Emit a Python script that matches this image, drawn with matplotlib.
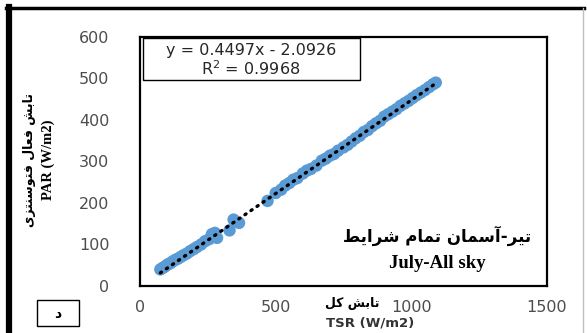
import numpy as np
import matplotlib
matplotlib.use('Agg')
import matplotlib.pyplot as plt
from matplotlib.lines import Line2D
from matplotlib.patches import Rectangle

# TSR vs PAR, July, all sky
tsr = [75, 82, 90, 98, 105, 112, 120, 130, 140, 150, 160, 172, 185, 198, 210,
       225, 240, 255, 265, 276, 284, 330, 345, 365, 470, 500, 520, 535, 550, 565,
       580, 600, 615, 630, 650, 670, 685, 700, 715, 730, 750, 765, 780, 795, 810,
       825, 840, 855, 870, 885, 900, 915, 930, 945, 960, 975, 990, 1005, 1020,
       1035, 1050, 1065, 1080, 1090]
par = [40, 43, 46, 50, 53, 55, 59, 63, 66, 70, 74, 78, 84, 89, 94,
       100, 108, 113, 125, 128, 116, 134, 160, 152, 205, 224, 232, 242, 248, 256,
       260, 271, 278, 282, 290, 302, 307, 314, 318, 326, 334, 340, 348, 356, 362,
       371, 376, 385, 392, 398, 408, 414, 420, 426, 434, 440, 446, 453, 460,
       466, 472, 479, 486, 490]
slope = 0.4497
intercept = -2.0926
r2 = 0.9968
xticks = [0, 500, 1000, 1500]
yticks = [0, 100, 200, 300, 400, 500, 600]

# simple arabic/persian shaping (matplotlib does no contextual shaping)
FORMS = {
    'ت': ('\uFE95', '\uFE96', '\uFE97', '\uFE98'),
    'ب': ('\uFE8F', '\uFE90', '\uFE91', '\uFE92'),
    'ی': ('\uFBFC', '\uFBFD', '\uFBFE', '\uFBFF'),
    'س': ('\uFEB1', '\uFEB2', '\uFEB3', '\uFEB4'),
    'ش': ('\uFEB5', '\uFEB6', '\uFEB7', '\uFEB8'),
    'م': ('\uFEE1', '\uFEE2', '\uFEE3', '\uFEE4'),
    'ن': ('\uFEE5', '\uFEE6', '\uFEE7', '\uFEE8'),
    'ط': ('\uFEC1', '\uFEC2', '\uFEC3', '\uFEC4'),
    'ف': ('\uFED1', '\uFED2', '\uFED3', '\uFED4'),
    'ع': ('\uFEC9', '\uFECA', '\uFECB', '\uFECC'),
    'ل': ('\uFEDD', '\uFEDE', '\uFEDF', '\uFEE0'),
    'ک': ('\uFB8E', '\uFB8F', '\uFB90', '\uFB91'),
    'ا': ('\uFE8D', '\uFE8E', '\uFE8D', '\uFE8E'),
    'آ': ('\uFE81', '\uFE82', '\uFE81', '\uFE82'),
    'ر': ('\uFEAD', '\uFEAE', '\uFEAD', '\uFEAE'),
    'ز': ('\uFEAF', '\uFEB0', '\uFEAF', '\uFEB0'),
    'و': ('\uFEED', '\uFEEE', '\uFEED', '\uFEEE'),
    'د': ('\uFEA9', '\uFEAA', '\uFEA9', '\uFEAA'),
}
RIGHT_ONLY = set('اآدذرزژو')


def shape(text):
    out = []
    for i, ch in enumerate(text):
        if ch not in FORMS:
            out.append(ch)
            continue
        prev = text[i - 1] if i > 0 else ''
        nxt = text[i + 1] if i + 1 < len(text) else ''
        jp = prev in FORMS and prev not in RIGHT_ONLY
        jn = nxt in FORMS and ch not in RIGHT_ONLY
        iso, fin, ini, med = FORMS[ch]
        if jp and jn:
            out.append(med)
        elif jp:
            out.append(fin)
        elif jn:
            out.append(ini)
        else:
            out.append(iso)
    return ''.join(reversed(out))


fig = plt.figure(figsize=(5.87, 3.33), dpi=100)
ax = fig.add_axes([0.2385, 0.1411, 0.6934, 0.748])

ax.scatter(tsr, par, s=80, color='#5B9BD5', edgecolors='none', zorder=2)
xl = np.array([min(tsr), max(tsr)])
ax.plot(xl, slope * xl + intercept, color='black', lw=2.4,
        linestyle=(0, (0.4, 1.8)), dash_capstyle='round', zorder=3)

ax.set_xlim(0, 1500)
ax.set_ylim(0, 600)
ax.set_xticks(xticks)
ax.set_yticks(yticks)
ax.tick_params(length=0, labelsize=11.5, labelcolor='#4d4d4d')
ax.tick_params(axis='y', pad=22)
ax.tick_params(axis='x', pad=10)
for s in ax.spines.values():
    s.set_linewidth(1.6)
    s.set_color('black')

# equation box
ax.add_patch(Rectangle((0.007, 0.827), 0.533, 0.17, transform=ax.transAxes,
                       fc='white', ec='black', lw=1.0, zorder=4))
ax.text(0.273, 0.945, 'y = 0.4497x - 2.0926', transform=ax.transAxes,
        ha='center', va='center', fontsize=11.5, color='#262626', zorder=5)
ax.text(0.273, 0.872, '$\\mathregular{R^2}$ = 0.9968', transform=ax.transAxes,
        ha='center', va='center', fontsize=11.5, color='#262626', zorder=5)

fpers = ['DejaVu Sans']
ax.text(0.73, 0.2, shape('تیر-آسمان تمام شرایط'), transform=ax.transAxes,
        ha='center', va='center', fontsize=12, fontweight='bold',
        family=fpers)
ax.text(0.73, 0.09, 'July-All sky', transform=ax.transAxes, ha='center',
        va='center', fontsize=13.5, fontweight='bold', family='Liberation Serif')

# axis titles
fig.text(0.05, 0.52, shape('تابش فعال فتوسنتزی'), rotation=90, ha='center',
         va='center', fontsize=9, fontweight='bold', family=fpers)
fig.text(0.083, 0.52, 'PAR (W/m2)', rotation=90, ha='center', va='center',
         fontsize=10.5, fontweight='bold', family='Liberation Serif')
fig.text(0.6, 0.09, shape('تابش کل'), ha='center', va='center',
         fontsize=9, fontweight='bold', family=fpers)
fig.text(0.63, 0.03, 'TSR (W/m2)', ha='center', va='center',
         fontsize=9.5, fontweight='bold', color='#333333')

# panel letter box
fig.add_artist(Rectangle((0.063, 0.021), 0.072, 0.078,
                         transform=fig.transFigure, fc='white', ec='black',
                         lw=1.0))
fig.text(0.099, 0.058, shape('د'), ha='center', va='center', fontsize=10,
         fontweight='bold', family=fpers)

# outer frame
fig.add_artist(Line2D([0.015, 0.015], [0.0, 0.98], transform=fig.transFigure,
                      color='black', lw=4.5))
fig.add_artist(Line2D([0.011, 0.995], [0.975, 0.975], transform=fig.transFigure,
                      color='black', lw=2.5))
fig.add_artist(Line2D([0.993, 0.993], [0.0, 0.975], transform=fig.transFigure,
                      color='#bfbfbf', lw=1.0))

fig.savefig('out.png', dpi=100)
